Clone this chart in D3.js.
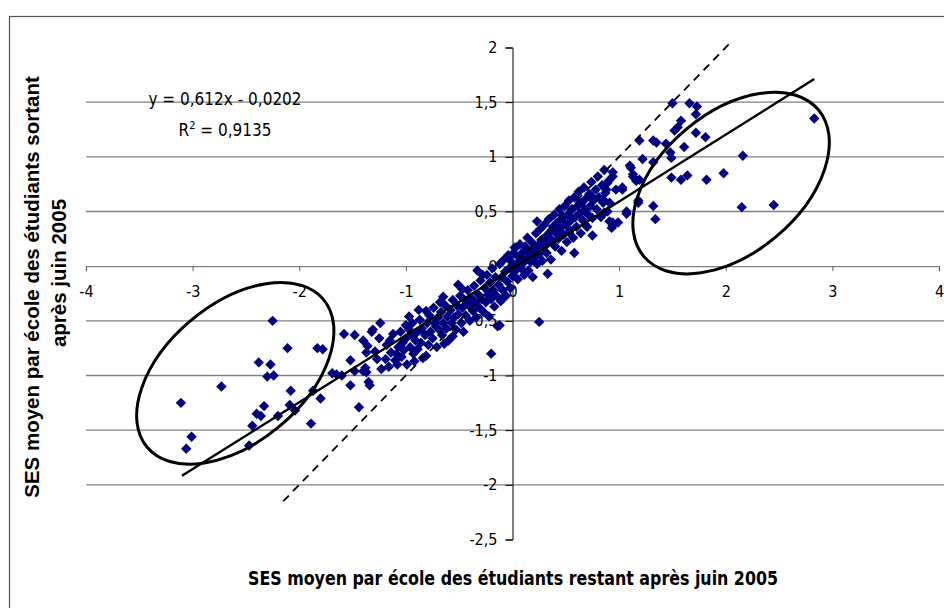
<!DOCTYPE html>
<html>
<head>
<meta charset="utf-8">
<script src="https://cdn.jsdelivr.net/npm/d3@7"></script>
<style>
  body { margin: 0; background: #fff; }
  .narrow { font-family: "Liberation Sans Narrow", "Arial Narrow", "DejaVu Sans Condensed", sans-serif; }
</style>
</head>
<body>
<div class="chart"></div>
<script>
// ticks
const xTicks = [-4, -3, -2, -1, 0, 1, 2, 3, 4];
const yTicks = [-2.5, -2, -1.5, -1, -0.5, 0, 0.5, 1, 1.5, 2];
const gridTicks = [-2, -1.5, -1, -0.5, 0.5, 1, 1.5];

// SES moyen: restant (x) vs sortant (y)
const schools = [
  [-3.11,-1.25],[-3.01,-1.56],[-3.06,-1.67],[-2.73,-1.10],[-2.47,-1.64],[-2.44,-1.46],[-2.40,-1.35],
  [-2.36,-1.37],[-2.33,-1.28],[-2.38,-0.88],[-2.27,-0.90],[-2.30,-1.01],[-2.24,-1.00],[-2.25,-0.50],
  [-2.20,-1.37],[-2.11,-0.75],[-2.09,-1.27],[-2.08,-1.14],[-2.04,-1.32],[-1.89,-1.44],[-1.87,-1.14],
  [-1.83,-0.75],[-1.78,-0.76],[-1.80,-1.21],
  [-1.69,-0.98],[-1.65,-0.99],[-1.60,-1.00],[-1.58,-0.62],[-1.52,-0.86],[-1.52,-1.09],[-1.48,-0.63],
  [-1.48,-0.96],[-1.44,-1.29],[-1.40,-0.68],[-1.40,-0.96],[-1.38,-0.93],[-1.37,-0.79],[-1.37,-0.97],
  [-1.36,-0.73],[-1.35,-1.06],[-1.34,-1.09],[-1.32,-0.60],[-1.31,-0.58],[-1.29,-0.78],[-1.27,-0.85],
  [-1.25,-0.66],[-1.24,-0.52],[-1.23,-0.94],[-1.19,-0.85],
  [-1.18,-0.72],[-1.16,-0.92],[-1.15,-0.68],[-1.14,-0.79],[-1.12,-0.62],[-1.10,-0.86],[-1.09,-0.80],
  [-1.08,-0.90],[-1.07,-0.74],[-1.05,-0.60],[-1.04,-0.83],[-1.03,-0.70],[-1.02,-0.77],[-1.00,-0.66],
  [-1.00,-0.54],[-0.99,-0.90],[-0.97,-0.58],[-0.97,-0.46],[-0.96,-0.74],[-0.94,-0.52],[-0.94,-0.64],
  [-0.93,-0.80],[-0.92,-0.87],[-0.91,-0.68],[-0.90,-0.61],[-0.89,-0.76],[-0.88,-0.40],[-0.87,-0.49],
  [-0.86,-0.70],[-0.85,-0.57],[-0.84,-0.84],[-0.82,-0.63],[-0.81,-0.41],[-0.81,-0.82],[-0.80,-0.52],
  [-0.79,-0.72],[-0.78,-0.45],[-0.77,-0.60],[-0.75,-0.66],[-0.74,-0.38],[-0.73,-0.52],[-0.72,-0.55],
  [-0.71,-0.74],[-0.70,-0.47],[-0.69,-0.58],[-0.68,-0.33],[-0.67,-0.42],[-0.66,-0.63],[-0.65,-0.52],
  [-0.65,-0.28],[-0.64,-0.71],[-0.63,-0.36],[-0.62,-0.57],[-0.61,-0.46],[-0.60,-0.68],[-0.58,-0.40],
  [-0.57,-0.52],[-0.56,-0.31],[-0.56,-0.64],[-0.55,-0.47],[-0.53,-0.58],[-0.52,-0.36],[-0.51,-0.44],
  [-0.51,-0.17],[-0.49,-0.27],[-0.48,-0.52],[-0.47,-0.38],[-0.47,-0.21],[-0.46,-0.60],[-0.45,-0.31],
  [-0.44,-0.45],[-0.42,-0.22],[-0.41,-0.36],[-0.40,-0.50],[-0.39,-0.29],[-0.37,-0.41],[-0.36,-0.18],
  [-0.35,-0.33],[-0.34,-0.47],[-0.33,-0.04],[-0.32,-0.26],[-0.31,-0.38],[-0.30,-0.13],[-0.29,-0.30],
  [-0.28,-0.08],[-0.27,-0.42],[-0.26,-0.20],[-0.25,-0.33],[-0.24,-0.08],[-0.23,-0.26],[-0.22,-0.46],
  [-0.21,-0.15],[-0.20,-0.30],[-0.20,-0.80],[-0.19,-0.02],[-0.18,-0.22],[-0.17,-0.37],[-0.16,-0.10],
  [-0.15,-0.27],[-0.14,-0.55],[-0.13,-0.17],[-0.12,0.02],[-0.12,-0.54],[-0.11,-0.32],[-0.10,-0.10],
  [-0.09,-0.22],[-0.09,-0.29],[-0.08,0.06],[-0.07,-0.05],[-0.06,-0.27],[-0.05,-0.14],[-0.04,0.10],
  [-0.03,-0.02],[-0.02,-0.20],[-0.01,0.04],[0.00,-0.09],
  [0.01,0.12],[0.02,-0.05],[0.02,0.17],[0.03,0.17],[0.04,0.02],[0.05,-0.12],[0.06,0.08],[0.07,0.20],
  [0.08,-0.02],[0.09,0.12],[0.10,0.03],[0.11,-0.08],[0.12,0.18],[0.13,0.07],[0.14,0.26],[0.15,-0.04],
  [0.16,0.13],[0.17,0.04],[0.18,0.22],[0.19,-0.10],[0.20,0.15],[0.21,0.08],[0.22,0.30],[0.23,0.02],
  [0.23,0.41],[0.24,0.19],[0.25,0.11],[0.25,-0.51],[0.26,0.34],[0.27,0.24],[0.28,0.05],[0.29,0.17],
  [0.30,0.38],[0.31,0.27],[0.32,0.12],[0.33,0.21],[0.33,-0.07],[0.34,0.43],[0.35,0.31],[0.36,0.06],
  [0.37,0.24],[0.38,0.36],[0.39,0.47],[0.40,0.18],[0.41,0.30],[0.42,0.40],[0.43,0.25],[0.44,0.52],
  [0.45,0.35],[0.46,0.14],[0.47,0.44],[0.47,0.46],[0.48,0.29],[0.49,0.55],[0.50,0.38],[0.51,0.22],
  [0.52,0.47],[0.53,0.60],[0.53,0.31],[0.54,0.33],[0.55,0.42],[0.56,0.52],[0.57,0.26],[0.58,0.63],
  [0.58,0.12],[0.59,0.45],[0.60,0.36],[0.61,0.55],[0.62,0.68],[0.63,0.48],[0.63,0.58],[0.64,0.30],
  [0.65,0.58],[0.66,0.42],[0.67,0.72],[0.68,0.52],[0.69,0.62],[0.69,0.37],[0.70,0.36],[0.71,0.47],
  [0.72,0.66],[0.73,0.55],[0.74,0.77],[0.75,0.44],[0.75,0.63],[0.75,0.28],[0.76,0.60],[0.78,0.70],
  [0.79,0.52],[0.80,0.82],[0.81,0.63],[0.83,0.45],[0.84,0.74],[0.85,0.58],[0.85,0.61],[0.86,0.88],
  [0.86,0.49],[0.87,0.67],[0.88,0.70],[0.89,0.50],[0.89,0.76],[0.90,0.78],[0.91,0.58],[0.91,0.41],
  [0.93,0.35],[0.94,0.86],[0.94,0.82],[0.94,0.40],[0.94,0.37],[0.97,0.70],[0.99,0.40],[1.03,0.72],
  [1.03,0.70],[1.07,0.50],[1.07,0.48],[1.10,0.92],[1.11,0.90],[1.13,0.84],[1.13,0.82],[1.16,0.78],
  [1.18,0.60],[1.18,0.58],[1.19,0.79],[1.19,1.15],[1.22,0.98],[1.32,0.95],[1.32,1.15],[1.35,1.13],
  [1.44,1.12],[1.48,1.04],[1.49,0.99],[1.49,0.81],[1.50,1.49],[1.52,1.24],[1.55,1.27],[1.58,1.33],
  [1.58,0.79],[1.61,1.09],[1.64,0.83],[1.66,1.49],[1.72,1.39],[1.72,1.22],[1.73,1.46],[1.81,1.18],
  [1.82,0.79],[1.98,0.85],[2.16,1.01],[2.15,0.54],[2.45,0.56],[2.83,1.35],[1.32,0.55],[1.34,0.43]
];

// regression y = 0,612x - 0,0202 and the y = x reference
const slope = 0.612, intercept = -0.0202;
const trendX = [-3.1, 2.83];
const diagX = [-2.15, 2.05];

// circled groups: centre in data units
const groups = [
  {cx: -2.6, cy: -0.98, rx: 115, ry: 69, angle: -40},
  {cx: 2.05, cy: 0.76, rx: 114, ry: 70, angle: -40}
];

const width = 944, height = 608;
const svg = d3.select('.chart')
    .append('svg')
    .attr('width', width)
    .attr('height', height)
    .attr('viewBox', [0, 0, width, height]);

const xScale = d3.scaleLinear().domain([-4, 4]).range([86, 939]);
const yScale = d3.scaleLinear().domain([-2.5, 2]).range([539.5, 47.5]);
const comma = d => String(d).replace('.', ',');

// outer frame
svg.append('rect')
    .attr('x', 9.5).attr('y', 16.5)
    .attr('width', 1000).attr('height', 700)
    .attr('fill', 'none')
    .attr('stroke', '#555')
    .attr('stroke-width', 1.2);

// gridlines
svg.append('g')
  .selectAll('line')
  .data(gridTicks)
  .join('line')
    .attr('x1', xScale(-4))
    .attr('x2', width)
    .attr('y1', d => yScale(d))
    .attr('y2', d => yScale(d))
    .attr('stroke', '#808080')
    .attr('stroke-width', 1.3);

// x axis through y = 0
svg.append('g')
    .attr('class', 'narrow')
    .attr('transform', `translate(0,${yScale(0)})`)
    .call(d3.axisBottom(xScale).tickValues(xTicks).tickFormat(comma).tickSize(5).tickPadding(14))
    .call(g => g.select('.domain').attr('stroke', '#808080').attr('stroke-width', 1.3))
    .call(g => g.selectAll('.tick line').attr('stroke', '#606060'))
    .call(g => g.selectAll('.tick text').attr('font-size', 16).attr('fill', '#000'))
    .attr('font-family', null);

// y axis through x = 0
svg.append('g')
    .attr('class', 'narrow')
    .attr('transform', `translate(${xScale(0)},0)`)
    .call(d3.axisLeft(yScale).tickValues(yTicks).tickFormat(comma).tickSize(7).tickPadding(8))
    .call(g => g.selectAll('.tick text').attr('font-size', 16).attr('fill', '#000'))
    .attr('font-family', null);

// points
svg.append('g')
    .attr('fill', '#000080')
  .selectAll('path')
  .data(schools)
  .join('path')
    .attr('d', d3.symbol(d3.symbolSquare, 54))
    .attr('transform', d => `translate(${xScale(d[0])},${yScale(d[1])}) rotate(45)`);

// y = x dashed
svg.append('line')
    .attr('x1', xScale(diagX[0])).attr('y1', yScale(diagX[0]))
    .attr('x2', xScale(diagX[1])).attr('y2', yScale(diagX[1]))
    .attr('stroke', '#000')
    .attr('stroke-width', 1.8)
    .attr('stroke-dasharray', '8,6');

// trend line
svg.append('line')
    .attr('x1', xScale(trendX[0])).attr('y1', yScale(slope * trendX[0] + intercept))
    .attr('x2', xScale(trendX[1])).attr('y2', yScale(slope * trendX[1] + intercept))
    .attr('stroke', '#000')
    .attr('stroke-width', 2.4);

// ellipses
svg.append('g')
  .selectAll('ellipse')
  .data(groups)
  .join('ellipse')
    .attr('rx', d => d.rx)
    .attr('ry', d => d.ry)
    .attr('transform', d => `translate(${xScale(d.cx)},${yScale(d.cy)}) rotate(${d.angle})`)
    .attr('fill', 'none')
    .attr('stroke', '#000')
    .attr('stroke-width', 3);

// equation
const eq = svg.append('g').attr('class', 'narrow').attr('font-size', 17);
eq.append('text')
    .attr('x', 225).attr('y', 105)
    .attr('text-anchor', 'middle')
    .text('y = 0,612x - 0,0202');
const r2 = eq.append('text')
    .attr('x', 225).attr('y', 136)
    .attr('text-anchor', 'middle');
r2.append('tspan').text('R');
r2.append('tspan').attr('dy', -7).attr('font-size', 11).text('2');
r2.append('tspan').attr('dy', 7).text(' = 0,9135');

// axis titles
svg.append('text')
    .attr('class', 'narrow')
    .attr('x', 513).attr('y', 585)
    .attr('text-anchor', 'middle')
    .attr('font-size', 19)
    .attr('font-weight', 'bold')
    .attr('textLength', 530)
    .attr('lengthAdjust', 'spacingAndGlyphs')
    .text('SES moyen par école des étudiants restant après juin 2005');

const yTitle = svg.append('text')
    .attr('transform', 'translate(39,287) rotate(-90)')
    .attr('text-anchor', 'middle')
    .attr('font-family', 'Liberation Sans, Arial, sans-serif')
    .attr('font-size', 20.5)
    .attr('font-weight', 'bold');
yTitle.append('tspan').attr('x', 0).attr('y', 0).text('SES moyen par école des étudiants sortant');
yTitle.append('tspan').attr('x', 14).attr('y', 27).text('après juin 2005');
</script>
</body>
</html>
